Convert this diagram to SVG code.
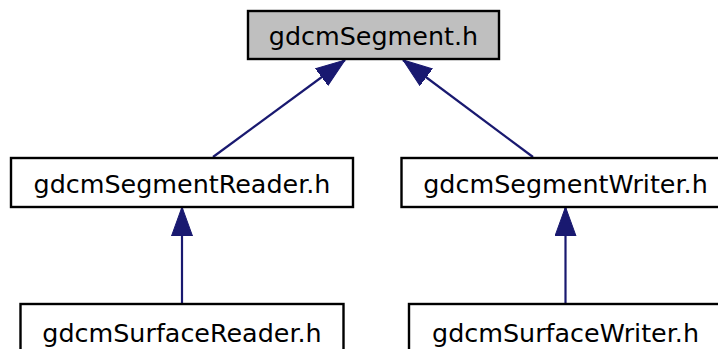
<svg xmlns="http://www.w3.org/2000/svg" width="718" height="349" viewBox="0 0 718 349">
<style>
.box{fill:#ffffff;stroke:#000000;stroke-width:2.4}
.cur{fill:#bfbfbf;stroke:#000000;stroke-width:2.4}
.lbl{font-family:"DejaVu Sans",sans-serif;font-size:25.4px;fill:#000000;text-anchor:middle}
.edge{stroke:#191970;stroke-width:2.2;fill:none;marker-end:url(#arr)}
</style>
<defs>
<marker id="arr" markerUnits="userSpaceOnUse" markerWidth="30" markerHeight="22" viewBox="0 0 30 22" refX="29" refY="11" orient="auto">
<path d="M0,0.5 L29,11 L0,21.5 Z" fill="#191970" stroke="#191970" stroke-width="1"/>
</marker>
</defs>
<rect width="718" height="349" fill="#ffffff"/>
<g id="edges">
<line class="edge" x1="213" y1="157" x2="345" y2="60"/>
<line class="edge" x1="533" y1="157" x2="403" y2="60"/>
<line class="edge" x1="182" y1="304" x2="182" y2="207"/>
<line class="edge" x1="565.5" y1="304" x2="565.5" y2="207"/>
</g>
<g id="n_segment">
<rect class="cur" x="248" y="11" width="251" height="48"/>
<text class="lbl" x="373.5" y="45">gdcmSegment.h</text>
</g>
<g id="n_segmentreader">
<rect class="box" x="11" y="158" width="342" height="49"/>
<text class="lbl" x="182" y="193">gdcmSegmentReader.h</text>
</g>
<g id="n_segmentwriter">
<rect class="box" x="401.5" y="158" width="328" height="49"/>
<text class="lbl" x="565.5" y="193">gdcmSegmentWriter.h</text>
</g>
<g id="n_surfacereader">
<rect class="box" x="20.5" y="304" width="323" height="60"/>
<text class="lbl" x="182" y="342">gdcmSurfaceReader.h</text>
</g>
<g id="n_surfacewriter">
<rect class="box" x="409" y="304" width="313" height="60"/>
<text class="lbl" x="565.5" y="342">gdcmSurfaceWriter.h</text>
</g>
</svg>
